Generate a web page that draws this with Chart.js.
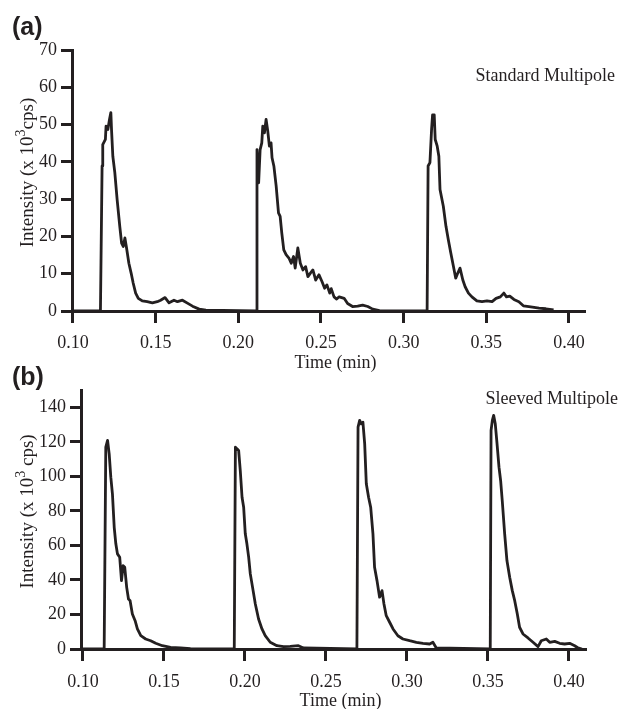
<!DOCTYPE html>
<html>
<head>
<meta charset="utf-8">
<script src="https://cdn.jsdelivr.net/npm/chart.js@4.4.1/dist/chart.umd.min.js"></script>
<style>
  html, body { margin: 0; padding: 0; background: #fff; }
  body { width: 620px; height: 709px; position: relative; overflow: hidden; }
  .panel { position: absolute; left: 0; width: 620px; }
  #wrap_a { top: 0; height: 375px; }
  #wrap_b { top: 355px; height: 354px; }
</style>
</head>
<body>
<div class="panel" id="wrap_a"><canvas id="chart_a" width="620" height="375"></canvas></div>
<div class="panel" id="wrap_b"><canvas id="chart_b" width="620" height="354"></canvas></div>
<script>
/*
Two ion intensity traces, standard vs sleeved multipole
*/

/**************** Data *************************/

// (a) standard multipole, time in min, intensity in 10^3 cps
const time_a = [
  0.0995, 0.1166, 0.1176, 0.1180, 0.1196, 0.1200, 0.1211, 0.1221, 0.1229, 0.1233,
  0.1241, 0.1253, 0.1267, 0.1283, 0.1294, 0.1304, 0.1314, 0.1324, 0.1338, 0.1352,
  0.1364, 0.1379, 0.1395, 0.1419, 0.1449, 0.1480, 0.1510, 0.1530, 0.1557, 0.1581,
  0.1611, 0.1632, 0.1662, 0.1692, 0.1723, 0.1763, 0.1804, 0.2107, 0.2113, 0.2123,
  0.2132, 0.2142, 0.2148, 0.2158, 0.2168, 0.2178, 0.2188, 0.2198, 0.2204, 0.2215,
  0.2229, 0.2243, 0.2253, 0.2263, 0.2275, 0.2289, 0.2306, 0.2320, 0.2334, 0.2344,
  0.2360, 0.2375, 0.2391, 0.2407, 0.2421, 0.2435, 0.2451, 0.2468, 0.2488, 0.2506,
  0.2522, 0.2536, 0.2553, 0.2562, 0.2579, 0.2595, 0.2610, 0.2640, 0.2661, 0.2691,
  0.2722, 0.2752, 0.2783, 0.2813, 0.2854, 0.3142, 0.3148, 0.3159, 0.3169, 0.3175,
  0.3185, 0.3191, 0.3203, 0.3213, 0.3220, 0.3240, 0.3256, 0.3270, 0.3285, 0.3301,
  0.3315, 0.3327, 0.3341, 0.3358, 0.3372, 0.3392, 0.3413, 0.3443, 0.3474, 0.3504,
  0.3535, 0.3559, 0.3585, 0.3606, 0.3622, 0.3642, 0.3667, 0.3697, 0.3724, 0.3758,
  0.3789, 0.3819, 0.3860, 0.3907
];
const intensity_a = [
  0, 0, 38.9, 44.6, 46.0, 49.6, 48.7, 51.4, 53.2, 48.7,
  41.5, 37.1, 29.9, 22.7, 18.2, 17.3, 19.6, 16.9, 12.8, 10.1,
  7.5, 4.8, 3.4, 2.7, 2.5, 2.2, 2.5, 2.9, 3.6, 2.2,
  2.9, 2.5, 2.9, 2.1, 1.3, 0.5, 0.2, 0, 43.3, 34.4,
  43.3, 45.1, 49.6, 47.8, 51.4, 48.3, 44.2, 45.1, 41.1, 38.9,
  33.5, 26.3, 25.4, 20.9, 16.4, 15.1, 14.2, 12.8, 14.6, 11.5,
  16.9, 12.8, 11.0, 11.9, 9.2, 10.1, 11.0, 8.3, 9.7, 7.9,
  6.1, 7.0, 4.8, 6.0, 3.8, 3.2, 3.8, 3.4, 2.0, 1.2,
  1.3, 1.6, 1.2, 0.5, 0.1, 0, 38.9, 39.8, 48.7, 52.6,
  52.6, 46.0, 44.2, 41.5, 32.6, 28.1, 22.7, 19.2, 15.6, 12.0,
  8.8, 10.1, 11.5, 8.3, 6.5, 4.8, 3.8, 2.7, 2.5, 2.7,
  2.5, 3.4, 3.8, 4.8, 3.8, 4.0, 3.1, 2.5, 1.4, 1.2,
  1.0, 0.8, 0.6, 0.3
];

// (b) sleeved multipole
const time_b = [
  0.0988, 0.1131, 0.1141, 0.1152, 0.1162, 0.1172, 0.1182, 0.1193, 0.1203, 0.1213,
  0.1227, 0.1238, 0.1248, 0.1258, 0.1270, 0.1281, 0.1291, 0.1305, 0.1322, 0.1336,
  0.1357, 0.1387, 0.1418, 0.1449, 0.1490, 0.1541, 0.1602, 0.1664, 0.1725, 0.1934,
  0.1941, 0.1951, 0.1961, 0.1971, 0.1982, 0.1992, 0.2002, 0.2012, 0.2023, 0.2033,
  0.2047, 0.2064, 0.2084, 0.2105, 0.2125, 0.2156, 0.2197, 0.2238, 0.2279, 0.2330,
  0.2361, 0.2691, 0.2698, 0.2708, 0.2718, 0.2728, 0.2739, 0.2749, 0.2763, 0.2776,
  0.2790, 0.2800, 0.2815, 0.2831, 0.2846, 0.2858, 0.2872, 0.2893, 0.2914, 0.2944,
  0.2975, 0.3016, 0.3058, 0.3099, 0.3140, 0.3160, 0.3181, 0.3514, 0.3519, 0.3527,
  0.3535, 0.3545, 0.3556, 0.3568, 0.3578, 0.3588, 0.3603, 0.3617, 0.3634, 0.3650,
  0.3665, 0.3681, 0.3695, 0.3716, 0.3747, 0.3778, 0.3809, 0.3829, 0.3860, 0.3881,
  0.3912, 0.3942, 0.3973, 0.4004, 0.4035, 0.4056, 0.4080
];
const intensity_b = [
  0, 0, 116.9, 120.8, 113.0, 99.5, 89.9, 70.5, 60.9, 55.1,
  53.1, 39.6, 48.3, 47.3, 35.7, 29.0, 28.0, 20.3, 16.4, 11.6,
  7.7, 5.8, 4.8, 3.3, 1.9, 1.0, 0.6, 0.2, 0, 0,
  116.9, 115.9, 115.0, 103.4, 87.9, 82.1, 66.7, 60.9, 53.1, 43.5,
  35.7, 26.1, 17.4, 11.6, 7.7, 3.9, 1.9, 1.4, 1.5, 1.9,
  0.6, 0, 128.5, 132.4, 130.4, 131.4, 118.8, 95.7, 87.9, 82.1,
  66.7, 47.3, 39.6, 30.0, 33.8, 26.1, 19.3, 15.5, 11.6, 7.7,
  5.8, 4.8, 3.9, 3.3, 2.9, 3.9, 0.6, 0, 126.6, 132.4,
  135.3, 130.4, 118.8, 105.3, 97.6, 86.0, 66.7, 51.2, 41.5, 33.8,
  28.0, 20.3, 12.6, 8.7, 6.4, 3.9, 1.4, 4.8, 5.8, 3.9,
  4.4, 3.3, 2.9, 3.3, 1.9, 0.6, 0
];

// axis ranges and tick steps
const x_range_a = [0.0994, 0.4097];
const x_range_b = [0.0988, 0.4105];
const y_range_a = [0, 70];
const y_range_b = [0, 150];
const y_step_a = 10;
const y_step_b = 20;
const x_step = 0.05;

const ink = '#231f20';


/**************** Text plugin *************************/

// panel letter, trace name, axis titles (y title has a superscript)
const panelText = {
    id: 'panelText',
    afterDraw(chart, args, opts) {
        const ctx = chart.ctx;
        const area = chart.chartArea;
        ctx.save();
        ctx.fillStyle = ink;

        ctx.font = 'bold 25px "Liberation Sans"';
        ctx.textAlign = 'left';
        ctx.textBaseline = 'middle';
        ctx.fillText(opts.letter, 12, opts.letterY);

        ctx.font = '18px "Liberation Serif"';
        ctx.textAlign = 'right';
        ctx.fillText(opts.name, area.right + opts.nameDx, area.top + opts.nameDy);

        ctx.textAlign = 'center';
        ctx.fillText('Time (min)', (area.left + area.right) / 2 + 7, area.bottom + 52);

        // y title
        const main1 = 'Intensity (x 10';
        const sup = '3';
        const main2 = opts.ySuffix;
        ctx.font = '19px "Liberation Serif"';
        const w1 = ctx.measureText(main1).width;
        const w3 = ctx.measureText(main2).width;
        ctx.font = '14px "Liberation Serif"';
        const w2 = ctx.measureText(sup).width;
        const total = w1 + w2 + w3;

        ctx.translate(27, (area.top + area.bottom) / 2 - 8);
        ctx.rotate(-Math.PI / 2);
        ctx.textAlign = 'left';
        ctx.textBaseline = 'alphabetic';
        let x = -total / 2;
        ctx.font = '19px "Liberation Serif"';
        ctx.fillText(main1, x, 6);
        x += w1;
        ctx.font = '14px "Liberation Serif"';
        ctx.fillText(sup, x, -2);
        x += w2;
        ctx.font = '19px "Liberation Serif"';
        ctx.fillText(main2, x, 6);

        ctx.restore();
    }
};


/**************** Load chart *************************/

function loadChart(canvasID, times, values, xRange, yRange, yStep, layout, text) {
    const points = times.map((t, i) => ({ x: t, y: values[i] }));

    return new Chart(document.getElementById(canvasID), {
        type: 'line',
        data: {
            datasets: [{
                data: points,
                borderColor: ink,
                borderWidth: 2.8,
                borderJoinStyle: 'round',
                pointRadius: 0,
                tension: 0,
                fill: false
            }]
        },
        options: {
            responsive: false,
            animation: false,
            events: [],
            layout: { padding: layout.padding },
            plugins: {
                legend: { display: false },
                tooltip: { enabled: false },
                panelText: text
            },
            scales: {
                x: {
                    type: 'linear',
                    min: xRange[0],
                    max: xRange[1],
                    afterFit: s => { s.height = layout.xHeight; },
                    border: { display: true, color: ink, width: 3 },
                    grid: {
                        drawOnChartArea: false,
                        drawTicks: true,
                        tickLength: 12,
                        tickWidth: 3,
                        tickColor: ink
                    },
                    ticks: {
                        stepSize: x_step,
                        includeBounds: false,
                        maxRotation: 0,
                        autoSkip: false,
                        padding: layout.xPad,
                        color: ink,
                        font: { family: '"Liberation Serif"', size: 18 },
                        callback: v => v.toFixed(2)
                    }
                },
                y: {
                    min: yRange[0],
                    max: yRange[1],
                    afterFit: s => { s.width = layout.yWidth; },
                    border: { display: true, color: ink, width: 3 },
                    grid: {
                        drawOnChartArea: false,
                        drawTicks: true,
                        tickLength: 11,
                        tickWidth: 3,
                        tickColor: ink
                    },
                    ticks: {
                        stepSize: yStep,
                        includeBounds: false,
                        padding: 4,
                        color: ink,
                        font: { family: '"Liberation Serif"', size: 18 }
                    }
                }
            }
        },
        plugins: [panelText]
    });
}

document.fonts.load('18px "Liberation Serif"').then(() => {
    loadChart('chart_a', time_a, intensity_a, x_range_a, y_range_a, y_step_a,
        { padding: { left: 0, top: 50, right: 35, bottom: 0 }, xHeight: 64, yWidth: 72, xPad: 9 },
        { letter: '(a)', letterY: 28, name: 'Standard Multipole', nameDx: 30, nameDy: 26, ySuffix: 'cps)' });

    loadChart('chart_b', time_b, intensity_b, x_range_b, y_range_b, y_step_b,
        { padding: { left: 0, top: 35, right: 34, bottom: 0 }, xHeight: 60, yWidth: 81, xPad: 10 },
        { letter: '(b)', letterY: 23, name: 'Sleeved Multipole', nameDx: 32, nameDy: 9, ySuffix: ' cps)' });
});
</script>
</body>
</html>
